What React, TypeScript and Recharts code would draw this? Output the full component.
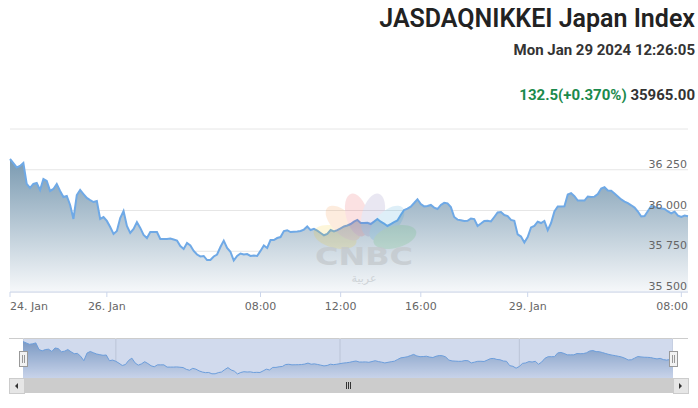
import { Area, AreaChart, CartesianGrid, XAxis, YAxis } from 'recharts';

// Index level, one reading per 10-minute step on the ordinal (trading-time) axis.
const PRICES = [
  36316, 36291, 36264, 36273, 36291, 36163, 36138, 36163, 36169, 36126,
  36193, 36181, 36120, 36132, 36163, 36120, 36083, 36089, 36034, 35948,
  36095, 36126, 36101, 36077, 36064, 36052, 36058, 35948, 35960, 35936,
  35899, 35856, 35874, 35954, 35997, 35905, 35862, 35887, 35929, 35893,
  35850, 35831, 35868, 35868, 35868, 35825, 35825, 35825, 35828, 35822,
  35816, 35782, 35764, 35801, 35785, 35752, 35730, 35718, 35721, 35696,
  35696, 35718, 35730, 35776, 35815, 35770, 35747, 35693, 35721, 35736,
  35730, 35733, 35721, 35724, 35721, 35752, 35785, 35770, 35819, 35819,
  35831, 35837, 35874, 35879, 35868, 35870, 35871, 35874, 35883, 35902,
  35880, 35887, 35876, 35862, 35848, 35856, 35880, 35872, 35880, 35891,
  35902, 35908, 35917, 35932, 35942, 35923, 35923, 35925, 35917, 35932,
  35948, 35931, 35920, 35905, 35917, 35929, 35939, 35972, 36003, 36012,
  36024, 36046, 36069, 36040, 36025, 36028, 36034, 36018, 36009, 36034,
  36047, 36044, 36021, 35960, 35944, 35940, 35936, 35937, 35951, 35947,
  35905, 35920, 35936, 35937, 35933, 35960, 35988, 35991, 35972, 35966,
  35942, 35937, 35853, 35840, 35804, 35837, 35896, 35905, 35931, 35923,
  35936, 35880, 35923, 35994, 36025, 36025, 36026, 36098, 36107, 36088,
  36061, 36061, 36061, 36086, 36083, 36085, 36101, 36135, 36143, 36123,
  36121, 36104, 36086, 36068, 36055, 36045, 36032, 36018, 35994, 35963,
  35966, 35997, 36028, 36021, 36015, 36013, 36009, 35994, 35983, 35993,
  35969, 35960, 35969, 35965,
];

const X_TICKS = [0, 29, 75, 99, 123, 155, 201];
const X_LABELS = ['24. Jan', '26. Jan', '08:00', '12:00', '16:00', '29. Jan', '08:00'];
const NAV_TICKS = [29, 99, 155];
const NAV_LABELS = ['26. Jan', '12:00', '29. Jan'];
const Y_TICKS = [35500, 35750, 36000, 36250, 36500];
const Y_DOMAIN = [35500, 36500];
const NAV_DOMAIN = [35615, 36385];

const TITLE = 'JASDAQNIKKEI Japan Index';
const TIMESTAMP = 'Mon Jan 29 2024 12:26:05';
const CHANGE = '132.5(+0.370%)';
const LAST = '35965.00';

const W = 698;
const MAIN_H = 320;
const Y_AXIS_W = 1;
const MARGIN = { top: 129, right: 9, bottom: 0, left: 10 };
const PLOT_RIGHT = W - MARGIN.right - Y_AXIS_W;
const AXIS_FONT = '"DejaVu Sans", sans-serif';
const LINE = '#6fa9e6';

const rows = PRICES.map((v, i) => ({ i, v }));
const lastIdx = PRICES.length - 1;

const fmtY = (v: number) =>
  `${Math.floor(v / 1000)} ${String(v % 1000).padStart(3, '0')}`;

function XTick(props: any) {
  const { x, y, payload, index } = props;
  const label = X_LABELS[X_TICKS.indexOf(payload.value)];
  let anchor = 'middle';
  let tx = x;
  if (index === 0) anchor = 'start';
  if (index === X_TICKS.length - 1) {
    anchor = 'end';
    tx = PLOT_RIGHT;
  }
  return (
    <text x={tx} y={y + 11} textAnchor={anchor} fill="#666" fontSize={11} fontFamily={AXIS_FONT}>
      {label}
    </text>
  );
}

// labels sit inside the plot, right-aligned just above their grid line
function YTick(props: any) {
  const { y, payload } = props;
  if (payload.value === Y_DOMAIN[1]) return <g />;
  return (
    <text x={PLOT_RIGHT - 1} y={y - 2} textAnchor="end" fill="#666" fontSize={11} fontFamily={AXIS_FONT}>
      {fmtY(payload.value)}
    </text>
  );
}

function NavTick(props: any) {
  const { x, y, payload } = props;
  const label = NAV_LABELS[NAV_TICKS.indexOf(payload.value)];
  return (
    <text x={x + 4} y={y - 4} fill="#999" fontSize={11} fontFamily={AXIS_FONT}>
      {label}
    </text>
  );
}

// faint CNBC Arabia peacock watermark
const PETALS = ['#f7c600', '#f58220', '#e8313a', '#6a5aa8', '#1c93d2', '#3ab54a'];

function Watermark() {
  const cx = 365;
  const cy = 245;
  return (
    <g opacity={0.14}>
      {PETALS.map((c, k) => {
        const a = -75 + k * 30;
        const r = (a * Math.PI) / 180;
        const px = cx + 31 * Math.sin(r);
        const py = cy - 31 * Math.cos(r);
        return (
          <ellipse key={k} cx={px} cy={py} rx={11} ry={22} fill={c}
            transform={`rotate(${a} ${px} ${py})`} />
        );
      })}
    </g>
  );
}

export default function App() {
  return (
    <div style={{ position: 'absolute', left: 0, top: 0, width: W, height: 408, background: '#fff' }}>
      <div style={{ position: 'absolute', left: 0, top: 0 }}>
        <AreaChart width={W} height={MAIN_H} data={rows} margin={MARGIN}>
          <defs>
            <linearGradient id="mainFill" x1="0" y1="0" x2="0" y2="1">
              <stop offset="0%" stopColor="#7a9ab1" />
              <stop offset="100%" stopColor="#f6f8fa" />
            </linearGradient>
          </defs>
          <CartesianGrid vertical={false} stroke="#e6e6e6" />
          <XAxis
            dataKey="i"
            type="number"
            domain={[0, lastIdx]}
            ticks={X_TICKS}
            interval={0}
            height={28}
            tickSize={5}
            tickMargin={2}
            axisLine={{ stroke: '#ccd6eb' }}
            tickLine={{ stroke: '#ccd6eb' }}
            tick={(p: any) => <XTick {...p} />}
          />
          <YAxis
            orientation="right"
            width={Y_AXIS_W}
            domain={Y_DOMAIN}
            ticks={Y_TICKS}
            interval={0}
            axisLine={false}
            tickLine={false}
            tick={(p: any) => <YTick {...p} />}
          />
          <Area
            type="linear"
            dataKey="v"
            stroke={LINE}
            strokeWidth={2}
            fill="url(#mainFill)"
            fillOpacity={1}
            dot={false}
            activeDot={false}
            isAnimationActive={false}
          />
        </AreaChart>
      </div>

      <svg width={W} height={408} style={{ position: 'absolute', left: 0, top: 0, pointerEvents: 'none' }}>
        <Watermark />
        <text x={364} y={265} textAnchor="middle" fontSize={24} fontWeight={700}
          fontFamily='"DejaVu Sans", sans-serif' fill="#c3c8cc" opacity={0.75}
          textLength={98} lengthAdjust="spacingAndGlyphs">CNBC</text>
        <text x={364} y={282} textAnchor="middle" fontSize={11}
          fontFamily='"DejaVu Sans", sans-serif' fill="#c3c8cc" opacity={0.7}>عربية</text>
        <text x={695} y={27} textAnchor="end" fontSize={25} fontWeight={600}
          fontFamily="Roboto, sans-serif" fill="#222">{TITLE}</text>
        <text x={695} y={55} textAnchor="end" fontSize={15} fontWeight={700}
          fontFamily="Roboto, sans-serif" fill="#333">{TIMESTAMP}</text>
        <text x={695} y={100} textAnchor="end" fontSize={15} fontWeight={700}
          fontFamily="Roboto, sans-serif">
          <tspan fill="#1b8a4c">{CHANGE}</tspan>
          <tspan fill="#333">{' ' + LAST}</tspan>
        </text>
      </svg>

      {/* navigator */}
      <div style={{ position: 'absolute', left: 9, top: 338, width: 679, height: 1, background: '#cccccc' }} />
      <div style={{ position: 'absolute', left: 23, top: 338 }}>
        <AreaChart width={650} height={40} data={rows} margin={{ top: 0, right: 0, bottom: 0, left: 0 }}>
          <defs>
            <linearGradient id="navFill" x1="0" y1="0" x2="0" y2="1">
              <stop offset="0%" stopColor="#86a4c4" />
              <stop offset="100%" stopColor="#f2f5fa" />
            </linearGradient>
          </defs>
          <CartesianGrid horizontal={false} stroke="#e0e0e0" />
          <XAxis
            dataKey="i"
            type="number"
            domain={[0, lastIdx]}
            ticks={NAV_TICKS}
            interval={0}
            height={0}
            tickSize={0}
            tickMargin={0}
            axisLine={false}
            tickLine={false}
            tick={(p: any) => <NavTick {...p} />}
          />
          <YAxis hide domain={NAV_DOMAIN} />
          <Area
            type="linear"
            dataKey="v"
            stroke={LINE}
            strokeWidth={1}
            fill="url(#navFill)"
            fillOpacity={1}
            dot={false}
            activeDot={false}
            isAnimationActive={false}
          />
        </AreaChart>
      </div>
      <div style={{ position: 'absolute', left: 23, top: 339, width: 650, height: 39, background: 'rgba(102,133,194,0.3)' }} />
      {[23, 673].map((hx) => (
        <div key={hx} style={{ position: 'absolute', left: hx - 4, top: 351, width: 7, height: 14, background: '#f2f2f2', border: '1px solid #999', boxSizing: 'content-box' }}>
          <div style={{ position: 'absolute', left: 2, top: 3, width: 1, height: 8, background: '#999' }} />
          <div style={{ position: 'absolute', left: 4, top: 3, width: 1, height: 8, background: '#999' }} />
        </div>
      ))}

      {/* scrollbar */}
      <div style={{ position: 'absolute', left: 9, top: 378, width: 679, height: 15, background: '#f2f2f2' }} />
      <div style={{ position: 'absolute', left: 23, top: 378, width: 650, height: 15, background: '#cccccc' }} />
      <div style={{ position: 'absolute', left: 346, top: 382, width: 5, height: 7, borderLeft: '1px solid #333', borderRight: '1px solid #333', boxSizing: 'border-box' }}>
        <div style={{ position: 'absolute', left: 1, top: 0, width: 1, height: 7, background: '#333' }} />
      </div>
      {[9, 673].map((bx, k) => (
        <div key={bx} style={{ position: 'absolute', left: bx, top: 378, width: 14, height: 14, background: '#e6e6e6', border: '1px solid #cccccc', boxSizing: 'content-box' }}>
          <div style={{
            position: 'absolute', left: 5, top: 4, width: 0, height: 0,
            borderTop: '3px solid transparent', borderBottom: '3px solid transparent',
            ...(k === 0 ? { borderRight: '3px solid #333' } : { borderLeft: '3px solid #333' }),
          }} />
        </div>
      ))}
    </div>
  );
}
